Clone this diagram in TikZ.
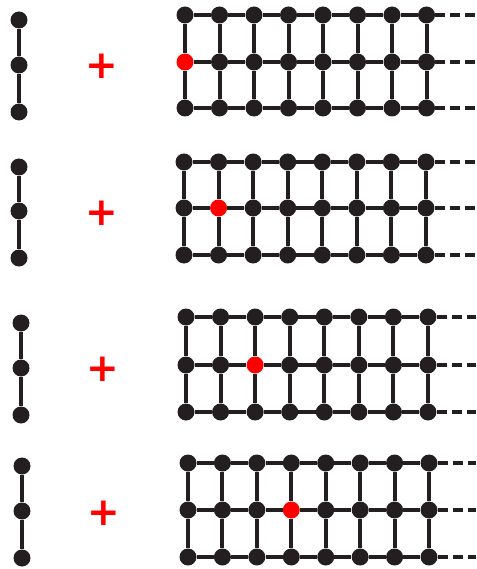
\documentclass[tikz,border=0pt]{standalone}
\usepackage{fontspec}
\newfontfamily\plusfont{DejaVu Sans}
\definecolor{vtxgray}{HTML}{231F20}
\tikzset{
  vtx/.style={circle, fill=vtxgray, inner sep=0pt, minimum size=17pt},
  hit/.style={vtx, fill=red},
  link/.style={draw=vtxgray, line width=4pt},
  tail/.style={draw=vtxgray, line width=3.2pt, dash pattern=on 10pt off 5pt},
  plussign/.style={text=red, inner sep=0pt, font=\plusfont\bfseries\fontsize{39}{39}\selectfont}
}
\begin{document}
\begin{tikzpicture}[x=1pt, y=-1pt]
  \useasboundingbox (0,0) rectangle (476,569);
  % row: path x, path y's, plus x/y, grid x0, step, grid y's, red column
  \foreach \r/\px/\pa/\pb/\pc/\qx/\qy/\gx/\gw/\ga/\gb/\gc/\hot in {
      1/19/20/65/112/102/66/185/34.5/15/62/108/1,
      2/19/167/211/258/102/213/184/34.57/162/208/255/2,
      3/21/323/368/415/103/369/186/34.57/317/365/412/3,
      4/22/466/511/558/104/513/188/34.43/463/510/557/4} {
    % the path on three vertices
    \node[vtx] (p\r-1) at (\px,\pa) {};
    \node[vtx] (p\r-2) at (\px,\pb) {};
    \node[vtx] (p\r-3) at (\px,\pc) {};
    \draw[link] (p\r-1) -- (p\r-2) -- (p\r-3);
    \node[plussign] (plus\r) at (\qx,\qy) {+};
    % the ladder grid
    \foreach \i in {1,...,8} {
      \foreach \j/\yy in {1/\ga,2/\gb,3/\gc} {
        \pgfmathsetmacro\xx{\gx+(\i-1)*\gw}
        \def\sty{vtx}
        \ifnum\j=2 \ifnum\i=\hot \def\sty{hit}\fi\fi
        \node[\sty] (g\r-\i-\j) at (\xx,\yy) {};
      }
    }
    \foreach \i [evaluate=\i as \k using int(\i+1)] in {1,...,7} {
      \foreach \j in {1,2,3}
        \draw[link] (g\r-\i-\j) -- (g\r-\k-\j);
    }
    \foreach \i in {1,...,8}
      \draw[link] (g\r-\i-1) -- (g\r-\i-2) -- (g\r-\i-3);
    \foreach \j/\yy in {1/\ga,2/\gb,3/\gc} {
      \coordinate (t\r-\j) at (476,\yy);
      \draw[tail] (g\r-8-\j) -- (t\r-\j);
    }
  }
\end{tikzpicture}
\end{document}
